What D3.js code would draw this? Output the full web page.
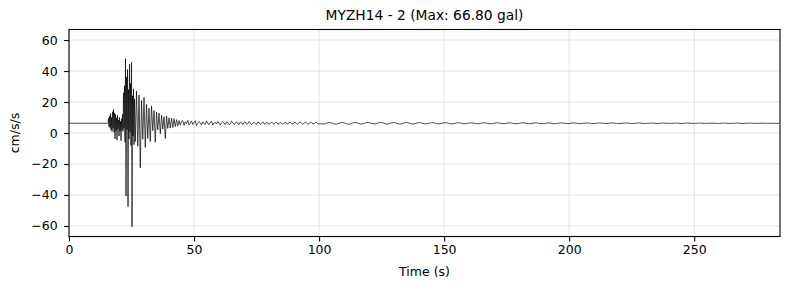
<!DOCTYPE html>
<html>
<head>
<meta charset="utf-8">
<script src="https://cdn.jsdelivr.net/npm/d3@7"></script>
<style>
  html, body { margin: 0; padding: 0; background: #fff; }
  svg { display: block; font-family: "DejaVu Sans", sans-serif; }
</style>
</head>
<body>
<svg id="chart" width="790" height="290"></svg>
<script>
// ---- data (cm/s/s) ----
const chartTitle = "MYZH14 - 2 (Max: 66.80 gal)";
const xTicks = [0, 50, 100, 150, 200, 250];
const yTicks = [-60, -40, -20, 0, 20, 40, 60];
const xMax = 284.3;
const yMax = 66.8;

// quiet pre-event record
const preEventTime = [0, 15.0];
const preEventAccel = [6.3, 6.3];

// strong-motion part, sampled every 0.2 s from 15.2 s to 26.2 s
const strongStart = 15.2, strongStep = 0.2;
const strongAccel = [
  6.3, 6.3, 6.8, 9.5, 4.0, 11.0, 3.5, 12.5, 2.0, 10.0,
  1.0, 13.8, 3.0, 15.3, 0.5, 13.0, -3.8, 12.0, 1.5, 9.8,
  -4.5, 11.5, 2.5, 8.4, -2.0, 10.0, 0.8, 7.5, -5.0, 9.2,
  2.0, 12.0, 1.0, 26.0, 3.0, 30.5, -6.0, 48.0, -40.6, 36.0,
  2.0, 41.0, -47.5, 28.0, -4.0, 44.5, 0.5, 32.0, -8.0, 45.6,
  -60.4, 24.0, -2.0, 28.5, -7.5, 22.0
];

// decaying S-wave part, sampled every 0.5 s from 26.5 s to 45 s
const decayStart = 26.5, decayStep = 0.5;
const decayAccel = [
  -5.5, 27.0, -8.5, 24.5, -22.4, 21.0, -4.0, 23.0, -9.3, 18.5,
  -3.5, 16.0, -5.5, 17.5, 1.5, 14.5, -6.0, 13.5, 2.0, 12.8,
  -0.5, 11.5, 2.5, 10.5, -3.6, 11.0, 3.0, 9.8, 3.2, 9.5,
  3.6, 9.2, 4.2, 8.6, 4.6, 8.0, 5.0, 7.6
];

// coda, sampled every 0.5 s from 45.5 s
const codaStart = 45.5, codaStep = 0.5;
const codaAccel = [
  8.0, 4.9, 7.2, 6.0, 8.1, 5.1, 6.4, 7.7, 5.5, 6.9,
  7.9, 4.8, 6.2, 7.4, 6.7, 5.2, 7.3, 6.0, 5.6, 7.8,
  6.1, 5.4, 7.0, 7.6, 5.1, 6.5, 6.9, 5.8, 7.5, 6.3,
  5.2, 6.6, 7.4, 6.1, 5.5, 7.2, 6.8, 5.3, 6.0, 7.6,
  6.4, 5.6, 6.2, 7.3, 5.9, 5.5, 7.1, 6.6, 5.4, 6.8,
  7.2, 5.7, 6.0, 7.4, 6.5, 5.3, 6.3, 7.0, 6.1, 5.6,
  7.1, 6.8, 5.5, 6.2, 7.2, 5.9, 5.7, 6.9, 6.6, 5.4,
  6.3, 7.1, 6.2, 5.6, 6.7, 7.0, 5.8, 5.9, 6.9, 6.4,
  5.5, 6.4, 7.1, 6.0, 5.7, 6.8, 6.9, 5.9, 5.8, 6.7,
  6.9, 5.9, 5.6, 6.5, 7.0, 6.2, 5.7, 6.3, 6.9, 6.5,
  5.7, 6.0, 6.9, 6.8, 5.8, 5.9, 6.7, 6.8, 6.0, 5.8
];

// late tail, sampled every 1 s from 101 s
const tailStart = 101, tailStep = 1.0;
const tailAccel = [
  6.0, 5.7, 6.4, 6.9, 6.5, 5.8, 5.7, 6.3, 6.9, 6.6, 5.9, 5.6, 6.2, 6.8, 6.7, 6.0, 5.7, 6.1, 6.8, 6.7,
  6.1, 5.8, 6.0, 6.7, 6.8, 6.2, 5.8, 6.0, 6.6, 6.8, 6.3, 5.8, 5.9, 6.5, 6.8, 6.4, 5.9, 5.9, 6.4, 6.7,
  6.5, 6.0, 5.9, 6.3, 6.7, 6.6, 6.0, 5.9, 6.2, 6.6, 6.6, 6.1, 5.9, 6.1, 6.6, 6.6, 6.2, 5.9, 6.1, 6.5,
  6.6, 6.3, 6.0, 6.0, 6.4, 6.6, 6.4, 6.0, 6.0, 6.3, 6.6, 6.5, 6.1, 6.0, 6.2, 6.6, 6.5, 6.1, 6.0, 6.2,
  6.5, 6.5, 6.2, 6.0, 6.1, 6.5, 6.6, 6.2, 6.0, 6.1, 6.4, 6.5, 6.3, 6.0, 6.1, 6.4, 6.5, 6.3, 6.1, 6.1,
  6.4, 6.5, 6.3, 6.1, 6.1, 6.3, 6.5, 6.4, 6.1, 6.1, 6.3, 6.5, 6.4, 6.2, 6.1, 6.3, 6.5, 6.4, 6.2, 6.1,
  6.2, 6.4, 6.5, 6.3, 6.1, 6.2, 6.4, 6.5, 6.3, 6.1, 6.2, 6.4, 6.4, 6.3, 6.1, 6.2, 6.4, 6.4, 6.3, 6.2,
  6.2, 6.4, 6.4, 6.2, 6.1, 6.3, 6.4, 6.4, 6.2, 6.2, 6.3, 6.4, 6.3, 6.2, 6.2, 6.3, 6.4, 6.3, 6.2, 6.2,
  6.3, 6.4, 6.3, 6.2, 6.2, 6.3, 6.4, 6.3, 6.2, 6.2, 6.3, 6.4, 6.3, 6.2, 6.2, 6.3, 6.4, 6.3, 6.2, 6.3,
  6.3, 6.3, 6.2, 6.3
];

// ---- assemble ----
const points = [];
preEventTime.forEach((t, i) => points.push([t, preEventAccel[i]]));
strongAccel.forEach((v, i) => points.push([strongStart + i * strongStep, v]));
decayAccel.forEach((v, i) => points.push([decayStart + i * decayStep, v]));
codaAccel.forEach((v, i) => points.push([codaStart + i * codaStep, v]));
tailAccel.forEach((v, i) => points.push([tailStart + i * tailStep, v]));

// ---- layout ----
const svg = d3.select("#chart");
const m = { left: 69, right: 780, top: 29.5, bottom: 236.5 };
const x = d3.scaleLinear().domain([0, xMax]).range([m.left, m.right]);
const y = d3.scaleLinear().domain([-yMax, yMax]).range([m.bottom, m.top]);

// grid
const grid = svg.append("g").attr("stroke", "#e3e3e3").attr("stroke-width", 1);
xTicks.forEach(t => grid.append("line")
  .attr("x1", x(t)).attr("x2", x(t)).attr("y1", m.top).attr("y2", m.bottom));
yTicks.forEach(t => grid.append("line")
  .attr("x1", m.left).attr("x2", m.right).attr("y1", y(t)).attr("y2", y(t)));

// clip
svg.append("clipPath").attr("id", "clip").append("rect")
  .attr("x", m.left).attr("y", m.top)
  .attr("width", m.right - m.left).attr("height", m.bottom - m.top);

// trace
svg.append("path")
  .datum(points)
  .attr("clip-path", "url(#clip)")
  .attr("fill", "none")
  .attr("stroke", "#000")
  .attr("stroke-width", 0.7)
  .attr("stroke-linejoin", "round")
  .attr("d", d3.line().x(d => x(d[0])).y(d => y(d[1])));

// axes
const fmt = d => (d < 0 ? "\u2212" + Math.abs(d) : String(d));
const xAxis = svg.append("g").attr("transform", `translate(0,${m.bottom})`)
  .call(d3.axisBottom(x).tickValues(xTicks).tickFormat(fmt).tickSize(4.9).tickPadding(4));
const yAxis = svg.append("g").attr("transform", `translate(${m.left},0)`)
  .call(d3.axisLeft(y).tickValues(yTicks).tickFormat(fmt).tickSize(4.9).tickPadding(6.5));
[xAxis, yAxis].forEach(g => {
  g.select(".domain").remove();
  g.selectAll(".tick line").attr("stroke", "#000").attr("stroke-width", 1.1);
  g.selectAll(".tick text").attr("fill", "#000")
    .style("font-family", "'DejaVu Sans', sans-serif").style("font-size", "12.5px");
});

// frame
svg.append("rect")
  .attr("x", m.left).attr("y", m.top)
  .attr("width", m.right - m.left).attr("height", m.bottom - m.top)
  .attr("fill", "none").attr("stroke", "#000").attr("stroke-width", 1.1);

// labels
svg.append("text").attr("x", (m.left + m.right) / 2).attr("y", 20)
  .attr("text-anchor", "middle").style("font-size", "13.8px").attr("fill", "#000")
  .text(chartTitle);
svg.append("text").attr("x", (m.left + m.right) / 2).attr("y", 276)
  .attr("text-anchor", "middle").style("font-size", "12.5px").attr("fill", "#000")
  .text("Time (s)");
svg.append("text")
  .attr("transform", `translate(19,${(m.top + m.bottom) / 2}) rotate(-90)`)
  .attr("text-anchor", "middle").style("font-size", "12.5px").attr("fill", "#000")
  .text("cm/s/s");
</script>
</body>
</html>
